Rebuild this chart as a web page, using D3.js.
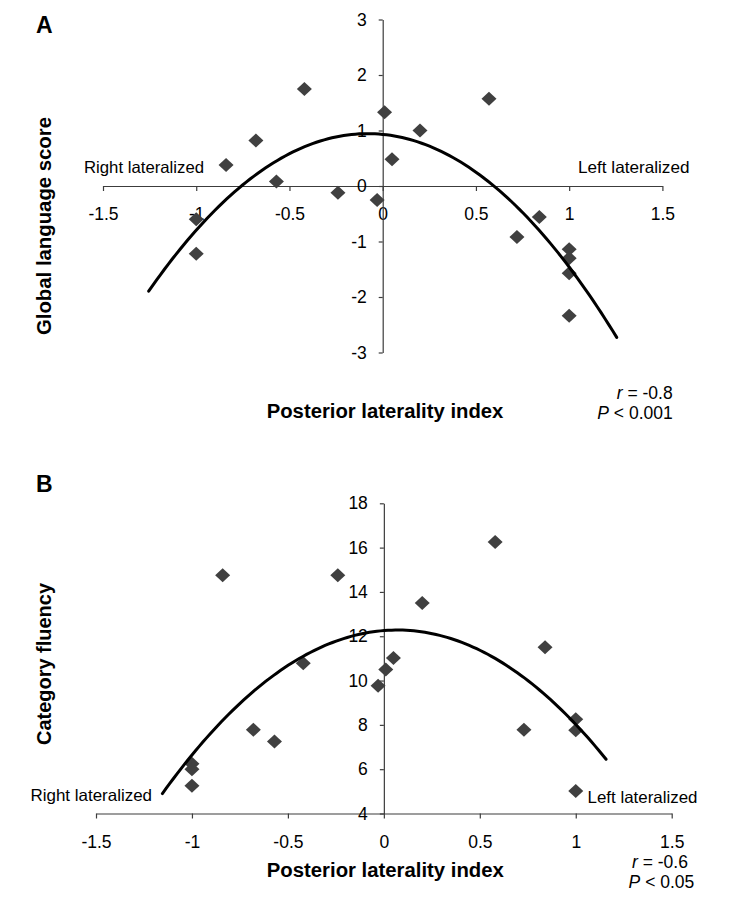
<!DOCTYPE html>
<html>
<head>
<meta charset="utf-8">
<script src="https://cdn.jsdelivr.net/npm/d3@7/dist/d3.min.js"></script>
<style>
  html, body { margin: 0; padding: 0; background: #fff; }
  svg { display: block; font-family: "Liberation Sans", Arial, Helvetica, sans-serif; }
</style>
</head>
<body>
<svg id="chart" width="734" height="900"></svg>
<script>
// ---------------- DATA ----------------
// Panel A: posterior laterality index vs global language score
const lateralityA = [-0.42, 0.57, 0.01, 0.20, -0.68, -0.84, 0.05, -0.57, -0.24, -0.03, 0.84, -1.00, -1.00, 0.72, 1.00, 1.00, 1.00, 1.00];
const globalLanguage = [1.75, 1.57, 1.33, 1.00, 0.82, 0.38, 0.48, 0.08, -0.12, -0.25, -0.56, -0.60, -1.22, -0.92, -1.14, -1.30, -1.57, -2.34];

// Panel B: posterior laterality index vs category fluency
const lateralityB = [-0.84, -0.24, 0.58, 0.20, 0.84, -0.42, 0.05, 0.01, -0.03, -0.68, -0.57, 0.73, 1.00, 1.00, 1.00, -1.00, -1.00, -1.00];
const categoryFluency = [14.75, 14.75, 16.25, 13.50, 11.50, 10.78, 11.02, 10.50, 9.76, 7.78, 7.25, 7.78, 8.25, 7.76, 5.02, 6.25, 6.00, 5.25];

// Polynomial (2nd order) trendlines: [a, b, c] for a*x^2 + b*x + c
const trendA = [-2.058, -0.332, 0.93];
const trendRangeA = [-1.255, 1.255];
const trendB = [-4.926, 0.690, 12.256];
const trendRangeB = [-1.154, 1.158];

// Tick labels
const xTicks = [-1.5, -1, -0.5, 0, 0.5, 1, 1.5];
const yTicksA = [-3, -2, -1, 0, 1, 2, 3];
const yTicksB = [4, 6, 8, 10, 12, 14, 16, 18];

// Texts
const panelLetters = ["A", "B"];
const xTitle = "Posterior laterality index";
const yTitles = ["Global language score", "Category fluency"];
const sideLabels = ["Right lateralized", "Left lateralized"];
const statsA = ["-0.8", "0.001"];
const statsB = ["-0.6", "0.05"];

// ---------------- DRAW ----------------
const svg = d3.select("#chart");
const AXIS = "#3c3c3c";
const MARK = "#404040";
const tickFont = 17.5;

function diamond(g, xs, ys, xv, yv) {
  g.selectAll("path.pt").data(xv.map((x, i) => [x, yv[i]]))
    .enter().append("path")
    .attr("class", "pt")
    .attr("d", "M0,-7L7.5,0L0,7L-7.5,0Z")
    .attr("transform", d => `translate(${xs(d[0])},${ys(d[1])})`)
    .attr("fill", MARK);
}

function trend(g, xs, ys, coef, range) {
  const n = 120;
  const pts = d3.range(n + 1).map(i => {
    const x = range[0] + (range[1] - range[0]) * i / n;
    return [x, coef[0] * x * x + coef[1] * x + coef[2]];
  });
  g.append("path")
    .attr("d", d3.line().x(d => xs(d[0])).y(d => ys(d[1]))(pts))
    .attr("fill", "none").attr("stroke", "#000").attr("stroke-width", 3)
    .attr("stroke-linecap", "round");
}

function styleAxis(sel) {
  sel.selectAll("path.domain").attr("stroke", AXIS).attr("stroke-width", 1.2);
  sel.selectAll(".tick line").attr("stroke", AXIS).attr("stroke-width", 1.2);
  sel.selectAll(".tick text").attr("font-size", tickFont).attr("fill", "#000")
     .attr("font-family", "'Liberation Sans', Arial, sans-serif");
}

function panel(opts) {
  const g = svg.append("g");
  const xs = d3.scaleLinear().domain([-1.5, 1.5]).range(opts.xRange);
  const ys = d3.scaleLinear().domain(opts.yDomain).range(opts.yRange);
  const fmt = d => String(d);

  // x axis
  const xa = g.append("g")
    .attr("transform", `translate(0,${ys(opts.xCross)})`)
    .call(d3.axisBottom(xs).tickValues(xTicks).tickFormat(fmt).tickSize(5).tickSizeOuter(0).tickPadding(opts.xPad));
  styleAxis(xa);
  xa.selectAll(".tick text").attr("dy", "0.71em");

  // y axis
  const ya = g.append("g")
    .attr("transform", `translate(${xs(0)},0)`)
    .call(d3.axisLeft(ys).tickValues(opts.yTicks).tickFormat(fmt).tickSize(4).tickSizeOuter(0).tickPadding(12));
  styleAxis(ya);

  diamond(g, xs, ys, opts.xv, opts.yv);
  trend(g, xs, ys, opts.coef, opts.range);
  return g;
}

panel({ xRange: [103, 662.4], yDomain: [-3, 3], yRange: [352.5, 19.5], xCross: 0,
        yTicks: yTicksA, xv: lateralityA, yv: globalLanguage, coef: trendA, range: trendRangeA, xPad: 17 });
panel({ xRange: [96, 671.7], yDomain: [4, 18], yRange: [813.5, 503.3], xCross: 4,
        yTicks: yTicksB, xv: lateralityB, yv: categoryFluency, coef: trendB, range: trendRangeB, xPad: 17 });

// Panel letters
svg.append("text").attr("x", 36).attr("y", 33).attr("font-size", 23).attr("font-weight", "bold").text(panelLetters[0]);
svg.append("text").attr("x", 36).attr("y", 492).attr("font-size", 23).attr("font-weight", "bold").text(panelLetters[1]);

// Axis titles
function boldText(x, y, txt, len, rot) {
  const t = svg.append("text").attr("font-size", 20).attr("font-weight", "bold").attr("fill", "#000")
    .attr("textLength", len).attr("lengthAdjust", "spacingAndGlyphs").text(txt);
  if (rot) t.attr("text-anchor", "middle").attr("transform", `translate(${x},${y}) rotate(-90)`);
  else t.attr("x", x).attr("y", y);
}
boldText(266.7, 417.7, xTitle, 236.7);
boldText(266.8, 877, xTitle, 237);
boldText(51, 226, yTitles[0], 218, true);
boldText(51, 664, yTitles[1], 162, true);

// Side labels
function plain(x, y, txt, len) {
  svg.append("text").attr("x", x).attr("y", y).attr("font-size", 16.5).attr("fill", "#000")
    .attr("textLength", len).attr("lengthAdjust", "spacingAndGlyphs").text(txt);
}
plain(84, 173, sideLabels[0], 120);
plain(578, 173, sideLabels[1], 111.5);
plain(30.5, 801, sideLabels[0], 121.5);
plain(587.5, 803, sideLabels[1], 110);

// Stats
function stats(xr, yr, xp, yp, vals) {
  const t1 = svg.append("text").attr("x", xr).attr("y", yr).attr("font-size", 17.5);
  t1.append("tspan").attr("font-style", "italic").text("r");
  t1.append("tspan").text(" = " + vals[0]);
  const t2 = svg.append("text").attr("x", xp).attr("y", yp).attr("font-size", 17.5);
  t2.append("tspan").attr("font-style", "italic").text("P");
  t2.append("tspan").text(" < " + vals[1]);
}
stats(616.7, 399, 597.3, 419, statsA);
stats(632, 868, 628.6, 888, statsB);
</script>
</body>
</html>
